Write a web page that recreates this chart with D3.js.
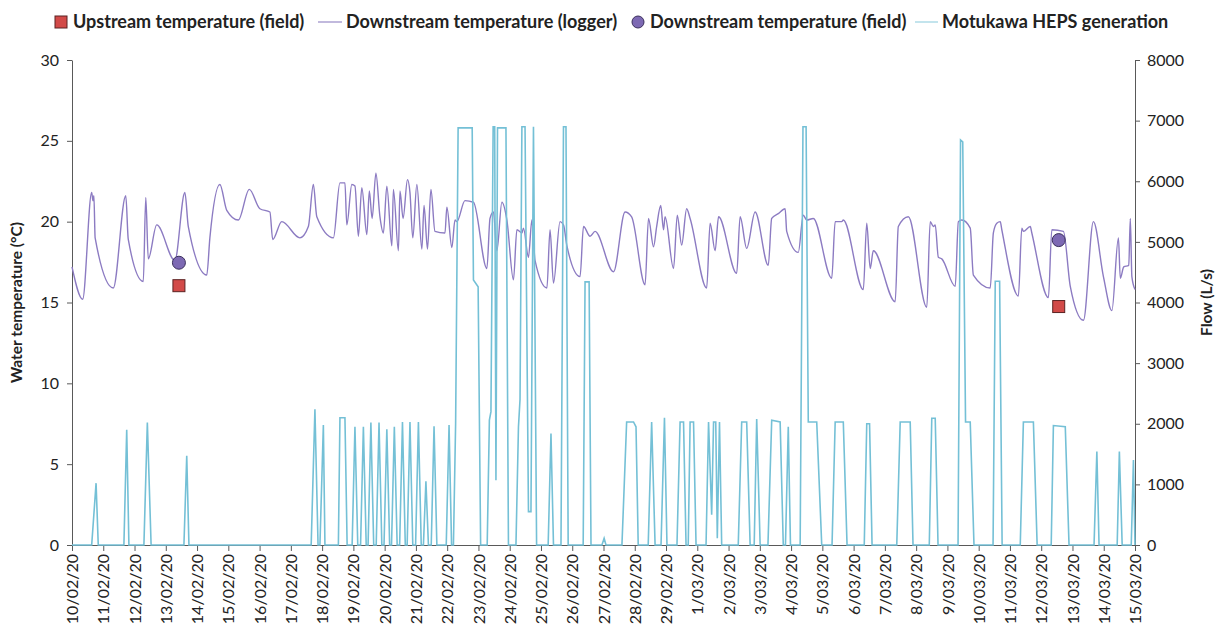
<!DOCTYPE html>
<html>
<head>
<meta charset="utf-8">
<script src="https://cdn.jsdelivr.net/npm/d3@7"></script>
<style>
  body { margin: 0; background: #fff; }
  text { font-family: Lato, "Open Sans", sans-serif; fill: #222; }
</style>
</head>
<body>
<div id="chart"></div>
<script>
var dateLabels = ["10/02/20","11/02/20","12/02/20","13/02/20","14/02/20","15/02/20","16/02/20","17/02/20",
  "18/02/20","19/02/20","20/02/20","21/02/20","22/02/20","23/02/20","24/02/20","25/02/20","26/02/20",
  "27/02/20","28/02/20","29/02/20","1/03/20","2/03/20","3/03/20","4/03/20","5/03/20","6/03/20","7/03/20",
  "8/03/20","9/03/20","10/03/20","11/03/20","12/03/20","13/03/20","14/03/20","15/03/20"];
var tempTicks = [0, 5, 10, 15, 20, 25, 30];
var flowTicks = [0, 1000, 2000, 3000, 4000, 5000, 6000, 7000, 8000];
var legendNames = ["Upstream temperature (field)", "Downstream temperature (logger)",
  "Downstream temperature (field)", "Motukawa HEPS generation"];

// [days since 10/02/20, °C]
var loggerTemp = [
  [0.00,17.2],[0.34,15.2],[0.63,21.8],[0.67,21.3],[0.70,21.6],[0.74,19.0],[1.32,15.9],[1.72,21.6],
  [1.80,18.9],[2.28,16.3],[2.36,21.5],[2.44,17.7],[2.71,19.8],[3.29,17.6],[3.61,21.8],[3.72,19.7],
  [4.31,16.7],[4.41,19.0],[4.73,22.3],[4.95,20.7],[5.32,20.1],[5.67,22.0],[6.01,20.8],[6.33,20.6],
  [6.42,18.9],[6.71,20.0],[7.29,19.0],[7.56,19.7],[7.72,22.3],[7.83,20.3],[8.36,19.0],[8.57,22.4],
  [8.73,22.4],[8.79,19.8],[8.95,22.3],[9.05,22.2],[9.16,19.1],[9.27,22.1],[9.43,19.2],[9.51,21.9],
  [9.60,20.2],[9.72,23.0],[9.85,20.3],[9.96,19.3],[10.07,22.2],[10.23,18.5],[10.28,22.0],[10.44,18.2],
  [10.49,21.9],[10.59,20.2],[10.73,22.6],[10.81,21.8],[10.90,19.0],[11.03,22.3],[11.19,18.3],[11.26,21.0],
  [11.37,18.3],[11.48,22.0],[11.61,19.4],[11.93,19.3],[11.99,20.9],[12.15,18.4],[12.25,20.1],[12.31,20.0],
  [12.57,21.3],[12.84,21.2],[13.27,17.1],[13.37,20.2],[13.48,20.6],[13.59,18.2],[13.75,21.2],[13.91,20.1],
  [14.12,16.4],[14.23,19.5],[14.39,19.3],[14.44,19.6],[14.60,17.8],[14.71,20.1],[14.81,17.6],[15.19,15.9],
  [15.29,19.5],[15.40,16.2],[15.61,20.0],[15.72,19.8],[15.83,18.5],[16.25,16.6],[16.36,19.7],[16.57,19.1],
  [16.73,19.4],[17.32,16.9],[17.69,20.6],[17.90,20.3],[18.33,16.1],[18.44,20.2],[18.60,18.45],[18.70,19.7],
  [18.83,21.0],[18.92,19.5],[18.97,20.3],[19.24,17.1],[19.36,20.4],[19.50,18.55],[19.66,20.8],[19.77,20.2],
  [20.30,15.9],[20.41,19.9],[20.57,18.2],[20.68,20.3],[21.26,16.8],[21.37,20.3],[21.58,18.35],[21.85,20.6],
  [22.27,17.3],[22.38,20.2],[22.59,20.5],[22.81,20.8],[22.86,19.4],[23.23,18.1],[23.39,20.4],[23.50,20.1],
  [23.71,20.2],[24.30,16.5],[24.41,20.0],[24.62,20.0],[24.67,20.1],[25.31,15.8],[25.42,19.9],[25.53,17.1],
  [25.63,18.2],[26.33,15.05],[26.43,19.7],[26.75,20.3],[27.34,14.7],[27.45,20.0],[27.55,19.7],[27.61,19.8],
  [27.71,17.8],[27.82,17.7],[28.25,16.0],[28.35,20.0],[28.46,20.1],[28.73,19.6],[28.83,16.7],[29.37,15.9],
  [29.47,19.3],[29.58,19.9],[29.69,20.0],[29.74,19.5],[30.27,15.4],[30.38,19.6],[30.43,19.4],[30.65,19.7],
  [30.70,19.3],[31.23,15.3],[31.34,19.5],[31.71,19.4],[31.93,16.0],[32.35,13.9],[32.67,20.0],[32.99,16.6],
  [33.26,14.5],[33.47,19.0],[33.53,16.5],[33.64,17.2],[33.80,17.3],[33.85,20.2],[33.90,16.6],[34.00,15.8]
];

// [days since 10/02/20, L/s]
var heps = [
  [0.00,0],[0.63,0],[0.77,1020],[0.84,0],[1.66,0],[1.75,1900],[1.82,0],[2.30,0],[2.41,2020],[2.53,0],
  [3.58,0],[3.67,1470],[3.74,0],[7.65,0],[7.77,2240],[7.87,0],[7.93,0],[8.04,1980],[8.09,0],
  [8.52,0],[8.57,2100],[8.73,2100],[8.80,0],[8.96,0],[9.05,1950],[9.14,0],[9.23,0],[9.32,1950],[9.41,0],
  [9.47,0],[9.56,2020],[9.65,0],[9.73,0],[9.82,2020],[9.91,0],[9.98,0],[10.07,1910],[10.16,0],
  [10.22,0],[10.31,1950],[10.40,0],[10.48,0],[10.57,2030],[10.66,0],[10.72,0],[10.81,2030],[10.90,0],
  [10.99,0],[11.08,2030],[11.17,0],[11.24,0],[11.32,1050],[11.40,0],[11.49,0],[11.58,1960],[11.67,0],
  [11.97,0],[12.06,1980],[12.14,0],[12.20,0],[12.27,2000],[12.35,6880],[12.80,6880],[12.84,4370],
  [12.99,4260],[13.07,0],[13.28,0],[13.35,2060],[13.40,2200],[13.47,6900],[13.52,6900],[13.56,1070],
  [13.61,6880],[13.88,6880],[13.96,0],[14.20,0],[14.28,1950],[14.33,2400],[14.39,6900],[14.49,6900],
  [14.60,550],[14.68,550],[14.76,6900],[14.86,0],[15.23,0],[15.32,1840],[15.40,0],[15.64,0],[15.72,6900],
  [15.80,6900],[15.87,0],[16.35,0],[16.41,4340],[16.54,4340],[16.60,0],[16.95,0],[17.02,110],[17.08,0],
  [17.59,0],[17.74,2030],[17.96,2030],[18.04,1950],[18.11,0],[18.43,0],[18.54,2030],[18.65,0],
  [18.84,0],[18.95,2100],[19.03,0],[19.35,0],[19.45,2030],[19.56,2030],[19.64,0],[19.71,0],[19.77,2030],
  [19.88,2030],[19.96,0],[20.28,0],[20.36,2030],[20.46,500],[20.52,2030],[20.59,2030],[20.64,110],
  [20.71,2030],[20.78,0],[21.31,0],[21.42,2030],[21.58,2030],[21.69,0],[21.82,0],[21.90,2080],[22.01,0],
  [22.26,0],[22.38,2060],[22.65,2030],[22.75,0],[22.82,0],[22.91,1950],[22.98,0],[23.29,0],[23.38,6900],
  [23.48,6900],[23.55,2030],[23.82,2030],[23.98,0],[24.31,0],[24.41,2030],[24.67,2030],[24.79,0],
  [25.34,0],[25.42,2000],[25.51,2000],[25.59,0],[26.38,0],[26.49,2030],[26.81,2030],[26.90,0],
  [27.42,0],[27.50,2090],[27.61,2090],[27.70,0],[28.34,0],[28.42,6680],[28.49,6650],[28.58,2030],
  [28.73,2030],[28.85,0],[29.46,0],[29.53,4350],[29.67,4350],[29.75,0],[30.33,0],[30.43,2030],
  [30.75,2030],[30.87,0],[31.32,0],[31.39,1970],[31.77,1950],[31.89,0],[32.69,0],[32.78,1540],
  [32.85,0],[33.43,0],[33.50,1540],[33.59,0],[33.88,0],[33.95,1400],[34.00,0]
];

var upstreamField = [[3.42,16.04],[31.56,14.75]];
var downstreamField = [[3.42,17.46],[31.56,18.86]];

var W = 1220, H = 632;
var mLeft = 72, mRight = 1135, mTop = 60, mBottom = 545;
var purple = "#8c7bc2", cyan = "#74c0d6", axisCol = "#595959";

var svg = d3.select("#chart").append("svg")
    .attr("width", W)
    .attr("height", H);

var x = d3.scaleLinear().domain([0, dateLabels.length - 1]).range([mLeft, mRight]);
var yT = d3.scaleLinear().domain([0, 30]).range([mBottom, mTop]);
var yF = d3.scaleLinear().domain([0, 8000]).range([mBottom, mTop]);

// axes
var xAxis = svg.append("g")
    .attr("transform", "translate(0," + mBottom + ")")
    .call(d3.axisBottom(x).tickValues(d3.range(dateLabels.length))
      .tickFormat(function(d) { return dateLabels[d]; }).tickSize(6).tickSizeOuter(0));
xAxis.selectAll("text")
    .attr("transform", "rotate(-90)")
    .attr("x", -9).attr("y", 0).attr("dy", "0.35em")
    .style("text-anchor", "end");

var yAxisL = svg.append("g")
    .attr("transform", "translate(" + mLeft + ",0)")
    .call(d3.axisLeft(yT).tickValues(tempTicks).tickSize(5).tickSizeOuter(0).tickPadding(8));

var yAxisR = svg.append("g")
    .attr("transform", "translate(" + mRight + ",0)")
    .call(d3.axisRight(yF).tickValues(flowTicks).tickFormat(d3.format("d"))
      .tickSize(5).tickSizeOuter(0).tickPadding(7));

svg.selectAll(".domain, .tick line").attr("stroke", axisCol);
svg.selectAll(".tick text").style("font-size", "16px").style("font-family", "Lato, sans-serif").attr("fill", "#222");

// axis titles
svg.append("text")
    .attr("transform", "translate(22," + (mTop + mBottom) / 2 + ") rotate(-90)")
    .style("text-anchor", "middle")
    .style("font-weight", "bold")
    .style("font-size", "15.5px")
    .text("Water temperature (°C)");

svg.append("text")
    .attr("transform", "translate(1212," + (mTop + mBottom) / 2 + ") rotate(-90)")
    .style("text-anchor", "middle")
    .style("font-weight", "bold")
    .style("font-size", "15.5px")
    .text("Flow (L/s)");

// series
var tempLine = d3.line()
    .curve(d3.curveMonotoneX)
    .x(function(d) { return x(d[0]); })
    .y(function(d) { return yT(d[1]); });

var flowLine = d3.line()
    .x(function(d) { return x(d[0]); })
    .y(function(d) { return yF(d[1]); });

svg.append("path")
    .datum(loggerTemp)
    .attr("d", tempLine)
    .attr("fill", "none")
    .attr("stroke", purple)
    .attr("stroke-width", 1.4);

svg.append("path")
    .datum(heps)
    .attr("d", flowLine)
    .attr("fill", "none")
    .attr("stroke", cyan)
    .attr("stroke-width", 1.6);

svg.selectAll(".up")
    .data(upstreamField)
    .enter().append("rect")
      .attr("class", "up")
      .attr("x", function(d) { return x(d[0]) - 6; })
      .attr("y", function(d) { return yT(d[1]) - 6; })
      .attr("width", 12).attr("height", 12)
      .attr("fill", "#d24a48").attr("stroke", "#5b2323").attr("stroke-width", 1);

svg.selectAll(".down")
    .data(downstreamField)
    .enter().append("circle")
      .attr("class", "down")
      .attr("cx", function(d) { return x(d[0]); })
      .attr("cy", function(d) { return yT(d[1]); })
      .attr("r", 6.5)
      .attr("fill", "#7d69b3").attr("stroke", "#3a2f5c").attr("stroke-width", 1);

// legend
var legend = svg.append("g").attr("transform", "translate(0,22)");
var lx = [55, 318, 632, 915];        // symbol start
var tx = [73, 346, 650, 942];        // text start

legend.append("rect").attr("x", lx[0]).attr("y", -6).attr("width", 12).attr("height", 12)
    .attr("fill", "#d24a48").attr("stroke", "#5b2323");
legend.append("line").attr("x1", lx[1]).attr("x2", lx[1] + 24).attr("y1", 0).attr("y2", 0)
    .attr("stroke", "#a79bcf").attr("stroke-width", 1.4);
legend.append("circle").attr("cx", lx[2] + 6).attr("cy", 0).attr("r", 6)
    .attr("fill", "#7d69b3").attr("stroke", "#3a2f5c");
legend.append("line").attr("x1", lx[3]).attr("x2", lx[3] + 23).attr("y1", 0).attr("y2", 0)
    .attr("stroke", "#a9d8e6").attr("stroke-width", 1.4);

legend.selectAll(".lt")
    .data(legendNames)
    .enter().append("text")
      .attr("class", "lt")
      .attr("x", function(d, i) { return tx[i]; })
      .attr("y", 0)
      .attr("dy", "0.35em")
      .style("font-weight", "bold")
      .style("font-size", "18px")
      .text(function(d) { return d; });
</script>
</body>
</html>
